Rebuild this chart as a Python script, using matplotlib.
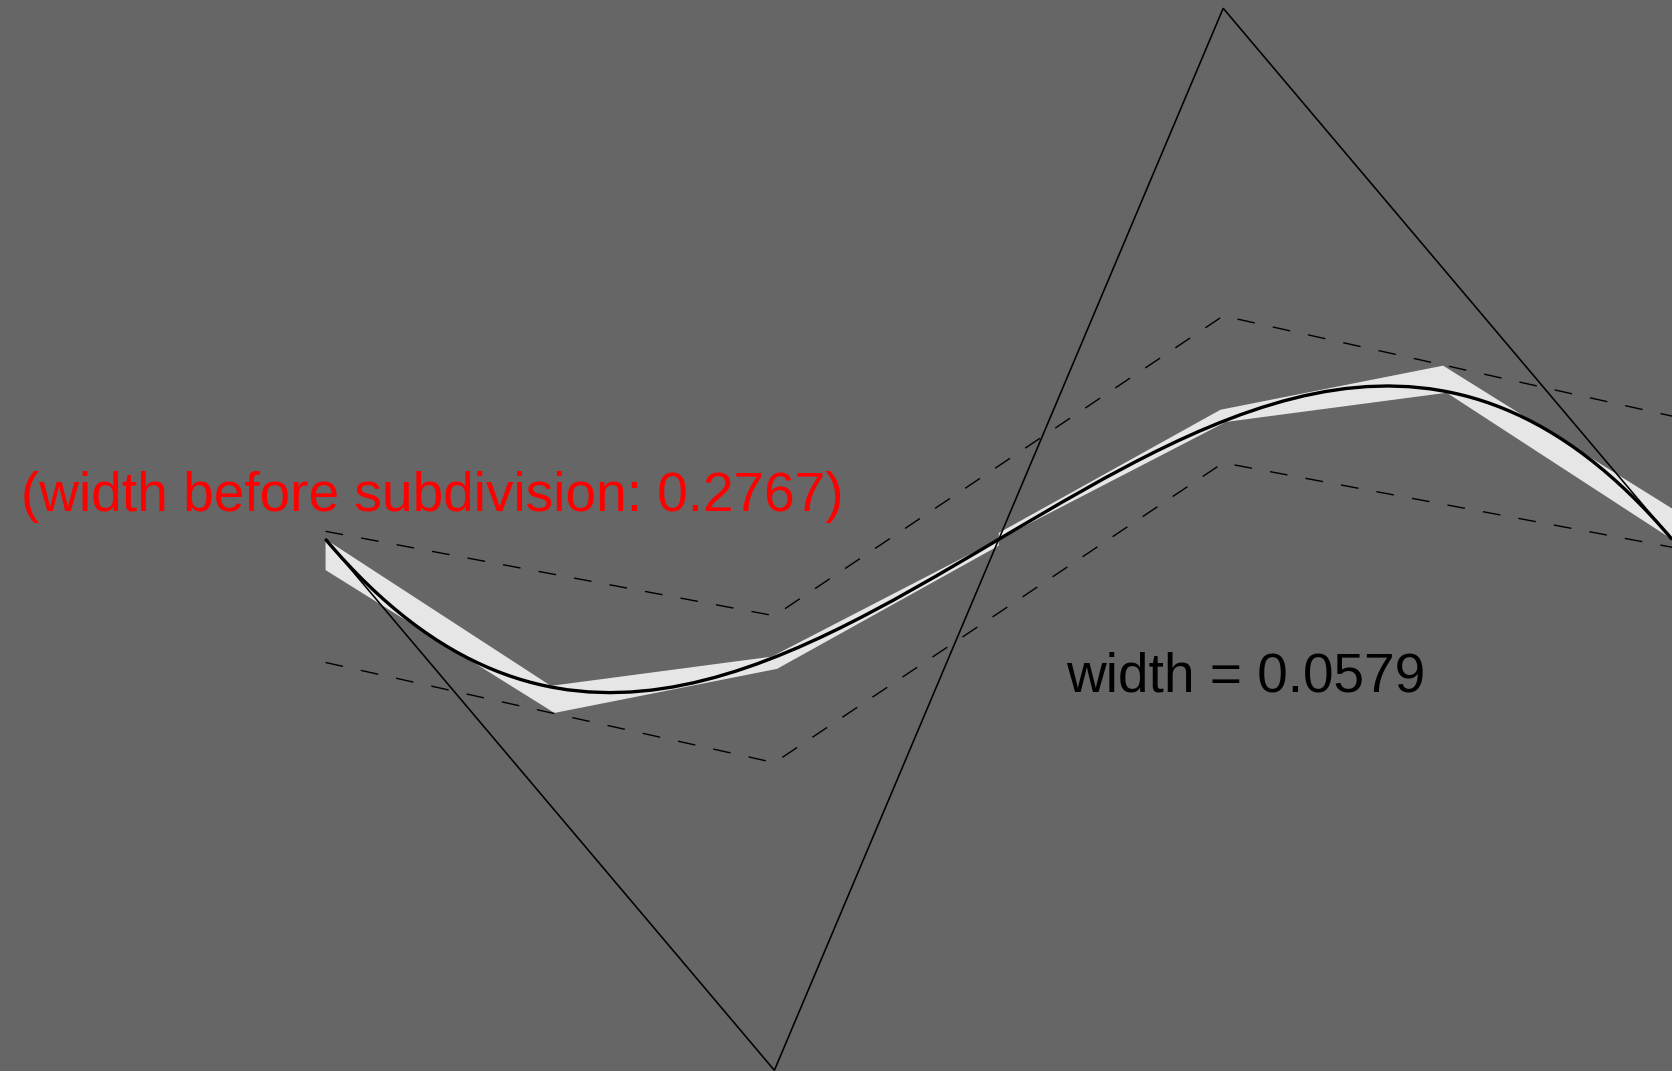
import matplotlib
matplotlib.use('Agg')
import matplotlib.pyplot as plt
from matplotlib.path import Path
from matplotlib.patches import PathPatch

# cubic control polygon
ctrl_x = [0.0, 1.0, 2.0, 3.0]
ctrl_y = [0.0, -1.0, 1.0, 0.0]

# bounding polygons before subdivision (dashed)
bound_x = [0.0, 1.0, 2.0, 3.0]
bound_upper_y = [0.015, -0.144, 0.4207, 0.232]
bound_lower_y = [-0.232, -0.4207, 0.144, -0.015]

# bounding strips after subdivision at t = 0.5
left_upper_x = [0.0, 0.502, 0.994, 1.5]
left_upper_y = [0.0, -0.276, -0.221, 0.0]
left_lower_x = [0.0, 0.510, 1.006, 1.5]
left_lower_y = [-0.058, -0.327, -0.244, -0.012]
right_upper_x = [1.5, 1.994, 2.490, 3.0]
right_upper_y = [0.012, 0.244, 0.327, 0.058]
right_lower_x = [1.5, 2.006, 2.498, 3.0]
right_lower_y = [0.0, 0.221, 0.276, 0.0]

width_before = 0.2767
width_after = 0.0579

plt.rcParams['font.family'] = ['Liberation Sans', 'DejaVu Sans']
plt.rcParams['lines.scale_dashes'] = False

fig = plt.figure(figsize=(16.72, 10.71), dpi=100)
fig.patch.set_facecolor('#666666')
ax = fig.add_axes([0, 0, 1, 1])
ax.set_facecolor('#666666')
ax.set_axis_off()
ax.set_xlim(-0.7254, 3.0)
ax.set_ylim(-1.0013, 1.0156)

# strips
for ux, uy, lx, ly in [(left_upper_x, left_upper_y, left_lower_x, left_lower_y),
                       (right_upper_x, right_upper_y, right_lower_x, right_lower_y)]:
    ax.fill(ux + lx[::-1], uy + ly[::-1], color='#e6e6e6', lw=0)

# dashed bounds
for by in [bound_upper_y, bound_lower_y]:
    ax.plot(bound_x, by, color='black', lw=1.0, dashes=(12.8, 13.2),
            solid_joinstyle='miter')

# control polygon
ax.plot(ctrl_x, ctrl_y, color='black', lw=1.15, solid_joinstyle='miter', clip_on=False)

# the curve itself
verts = list(zip(ctrl_x, ctrl_y))
codes = [Path.MOVETO, Path.CURVE4, Path.CURVE4, Path.CURVE4]
ax.add_patch(PathPatch(Path(verts, codes), facecolor='none', edgecolor='black', lw=2.4))

ax.text(-0.679, 0.0533, '(width before subdivision: %.4f)' % width_before,
        color='red', fontsize=39.6, ha='left', va='baseline')
ax.text(1.651, -0.287, 'width = %.4f' % width_after,
        color='black', fontsize=39.6, ha='left', va='baseline')

plt.savefig('out.png', dpi=100, facecolor=fig.get_facecolor())
